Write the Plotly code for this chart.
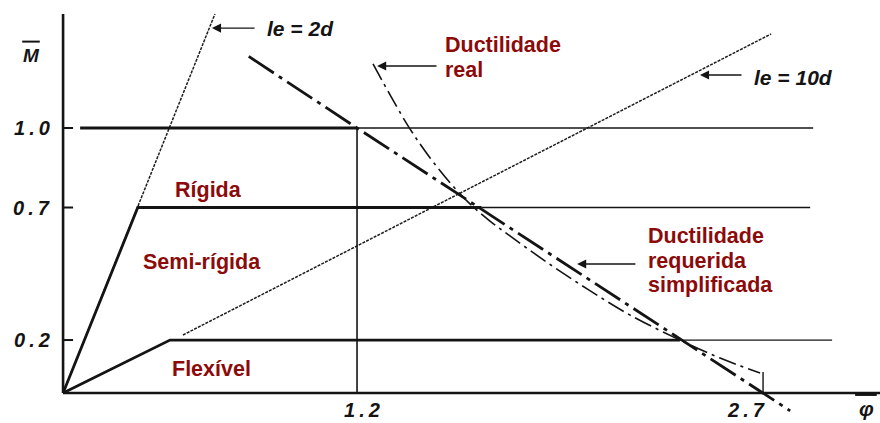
import plotly.graph_objects as go

# Normalised rotation (phi) and moment (M) values of the diagram
phi_origin = 0.114          # corner where both axes meet (M = 0)

# Limit stiffness lines
le2d_phi = [phi_origin, 0.675]
le2d_m = [0.0, 1.43]
le10d_phi = [0.557, 2.73]
le10d_m = [0.219, 1.355]

# Rigid connection: elastic branch + plateau at 0.7
rigid_phi = [phi_origin, 0.39, 1.66]
rigid_m = [0.0, 0.7, 0.7]
rigid_ext_phi = [1.66, 2.874]
rigid_ext_m = [0.7, 0.7]

# Full plastic moment level 1.0
full_phi = [0.177, 1.2]
full_m = [1.0, 1.0]
full_ext_phi = [1.2, 2.885]
full_ext_m = [1.0, 1.0]

# Flexible connection: elastic branch + plateau at 0.2
flex_phi = [phi_origin, 0.509, 2.393]
flex_m = [0.0, 0.2, 0.2]
flex_ext_phi = [2.393, 2.955]
flex_ext_m = [0.2, 0.2]

# Rotation at full plastic moment
rot12_phi = [1.2, 1.2]
rot12_m = [0.0, 1.0]
rot27_phi = [2.7, 2.7]
rot27_m = [0.0, 0.079]

# Simplified required ductility (straight line)
simp_phi = [0.80, 1.2, 1.65, 2.4, 2.7, 2.80]
simp_m = [1.27, 1.0, 0.7, 0.2, 0.0, -0.067]

# Real ductility curve
real_phi = [1.259, 1.322, 1.396, 1.470, 1.544, 1.618, 1.691, 1.765, 1.895,
            2.050, 2.209, 2.393, 2.541, 2.689]
real_m = [1.242, 1.125, 0.996, 0.887, 0.793, 0.713, 0.649, 0.593, 0.498,
          0.393, 0.294, 0.200, 0.132, 0.076]

y_ticks = [1.0, 0.7, 0.2]
y_tick_text = ["1\u2009.\u20090", "0\u2009.\u20097", "0\u2009.\u20092"]
x_ticks = [1.2, 2.7]
x_tick_text = ["1\u2009.\u20092", "2\u2009.\u20097"]

INK = "#141414"
RED = "#8c0a0a"
FONT = "Liberation Sans"
NB = "\u00a0"

fig = go.Figure()


def add_line(x, y, width, dash="solid", color=INK, shape="linear"):
    fig.add_trace(go.Scatter(x=x, y=y, mode="lines", hoverinfo="skip",
                             line=dict(color=color, width=width, dash=dash,
                                       shape=shape, smoothing=1.0)))


add_line(le2d_phi, le2d_m, 1.5, "3px,1.2px", "#1e1e1e")
add_line(le10d_phi, le10d_m, 1.5, "3px,1.2px", "#1e1e1e")
add_line(rigid_phi, rigid_m, 2.8)
add_line(rigid_ext_phi, rigid_ext_m, 1.3)
add_line(full_phi, full_m, 2.8)
add_line(full_ext_phi, full_ext_m, 1.3)
add_line(flex_phi, flex_m, 2.8)
add_line(flex_ext_phi, flex_ext_m, 1.3)
add_line(rot12_phi, rot12_m, 1.6)
add_line(rot27_phi, rot27_m, 1.4)
add_line(real_phi, real_m, 1.6, "18px,5px,3px,5px", shape="spline")
add_line(simp_phi, simp_m, 2.8, "30px,6px,4px,6px")

shapes = [
    # axes
    dict(type="line", x0=phi_origin, x1=phi_origin, y0=0, y1=1.43,
         line=dict(color=INK, width=2.6)),
    dict(type="line", x0=phi_origin, x1=3.2, y0=0, y1=0,
         line=dict(color=INK, width=2.6)),
    # overbars of the axis symbols
    dict(type="line", x0=-0.037, x1=0.028, y0=1.326, y1=1.326,
         line=dict(color=INK, width=2)),
    dict(type="line", x0=3.04, x1=3.12, y0=-0.006, y1=-0.006,
         line=dict(color=INK, width=2.6)),
]
for v in y_ticks:
    shapes.append(dict(type="line", x0=phi_origin, x1=phi_origin + 0.037,
                       y0=v, y1=v, line=dict(color=INK, width=2)))

annotations = []
for v, t in zip(y_ticks, y_tick_text):
    annotations.append(dict(x=0.073, y=v, text="<b><i>" + t + "</i></b>",
                            xanchor="right", yanchor="middle", showarrow=False,
                            font=dict(family=FONT, size=20, color=INK)))
for v, t, dx in zip(x_ticks, x_tick_text, [0.018, -0.063]):
    annotations.append(dict(x=v + dx, y=-0.064, text="<b><i>" + t + "</i></b>",
                            xanchor="center", yanchor="middle", showarrow=False,
                            font=dict(family=FONT, size=20, color=INK)))

annotations += [
    dict(x=-0.004, y=1.272, text="<b><i>M</i></b>", showarrow=False,
         font=dict(family=FONT, size=19, color=INK)),
    dict(x=3.081, y=-0.06, text="<b><i>\u03c6</i></b>", showarrow=False,
         font=dict(family=FONT, size=21, color=INK)),
    dict(x=0.86, y=1.377, text="<b><i>le" + NB + "=" + NB + "2d</i></b>",
         xanchor="left", showarrow=False,
         font=dict(family=FONT, size=21, color=INK)),
    dict(x=2.659, y=1.192, text="<b><i>le" + NB + "=" + NB + "10d</i></b>",
         xanchor="left", showarrow=False,
         font=dict(family=FONT, size=21, color=INK)),
]

red_labels = [
    (1.518, 1.313, "Ductilidade", "left"),
    (1.518, 1.220, "real", "left"),
    (2.268, 0.592, "Ductilidade", "left"),
    (2.268, 0.499, "requerida", "left"),
    (2.268, 0.406, "simplificada", "left"),
    (0.65, 0.766, "Rígida", "center"),
    (0.627, 0.494, "Semi-rígida", "center"),
    (0.664, 0.091, "Flexível", "center"),
]
for x, y, t, anc in red_labels:
    annotations.append(dict(x=x, y=y, text="<b>" + t + "</b>", xanchor=anc,
                            yanchor="middle", showarrow=False,
                            font=dict(family=FONT, size=21.5, color=RED)))

# Leader arrows from labels to the curves
arrows = [
    (0.664, 1.377, 0.827, 1.377),
    (1.274, 1.234, 1.499, 1.234),
    (2.013, 0.487, 2.234, 0.487),
    (2.467, 1.200, 2.626, 1.200),
]
for hx, hy, tx, ty in arrows:
    annotations.append(dict(x=hx, y=hy, ax=tx, ay=ty, axref="x", ayref="y",
                            xref="x", yref="y", text="", showarrow=True,
                            arrowhead=2, arrowsize=1.3, arrowwidth=1.4,
                            arrowcolor=INK, standoff=0))

fig.update_layout(
    width=880, height=423, autosize=False,
    margin=dict(l=0, r=0, t=0, b=0),
    paper_bgcolor="white", plot_bgcolor="white",
    showlegend=False,
    xaxis=dict(range=[-0.119, 3.132], visible=False, fixedrange=True),
    yaxis=dict(range=[-0.113, 1.483], visible=False, fixedrange=True),
    shapes=shapes, annotations=annotations,
)

fig.write_html("out.html")
